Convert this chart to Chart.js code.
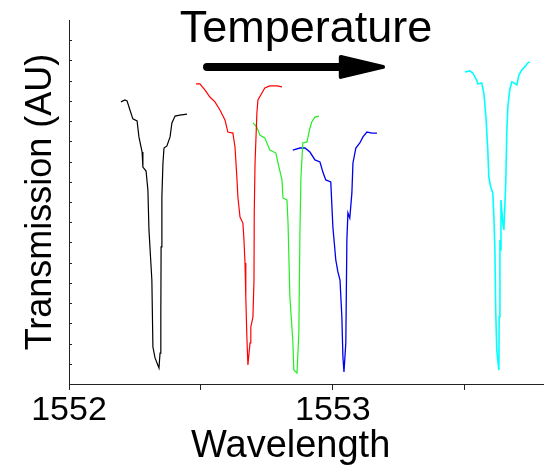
<!DOCTYPE html>
<html>
<head>
<meta charset="utf-8">
<script src="https://cdn.jsdelivr.net/npm/chart.js@4/dist/chart.umd.min.js"></script>
<style>
  body { margin: 0; background: #fff; }
  .chart-container { width: 544px; height: 466px; }
</style>
</head>
<body>
<div class="chart-container"><canvas id="chart"></canvas></div>
<script>
// tick positions
const xTicks = [1552, 1552.5, 1553, 1553.5]
const yTicks = [1, 2, 3, 4, 5, 6, 7, 8, 9, 10, 11, 12, 13, 14, 15, 16, 17]

// spectra, wavelength (nm) and transmission (AU)
const blackWl = [1552.197, 1552.212, 1552.220, 1552.231, 1552.242, 1552.258, 1552.265, 1552.277, 1552.280, 1552.292, 1552.299, 1552.303, 1552.314, 1552.318, 1552.326, 1552.341, 1552.345, 1552.348, 1552.349, 1552.352, 1552.356, 1552.360, 1552.371, 1552.383, 1552.390, 1552.402, 1552.420, 1552.447]
const blackTr = [13.95, 14.05, 14.00, 13.55, 13.11, 13.01, 12.22, 11.47, 10.73, 10.53, 9.59, 7.62, 5.14, 1.83, 1.29, 0.79, 1.53, 3.51, 6.78, 9.25, 10.93, 11.67, 11.77, 12.22, 12.91, 13.25, 13.30, 13.35]

const redWl = [1552.481, 1552.496, 1552.515, 1552.534, 1552.553, 1552.572, 1552.591, 1552.602, 1552.621, 1552.629, 1552.636, 1552.640, 1552.648, 1552.659, 1552.663, 1552.667, 1552.670, 1552.674, 1552.678, 1552.686, 1552.689, 1552.697, 1552.701, 1552.702, 1552.705, 1552.712, 1552.716, 1552.731, 1552.742, 1552.761, 1552.788, 1552.807]
const redTr = [14.84, 14.84, 14.54, 14.19, 13.95, 13.55, 13.06, 12.46, 12.41, 11.72, 10.24, 9.25, 8.26, 7.96, 7.12, 5.98, 4.30, 2.32, 0.94, 2.03, 2.82, 3.31, 5.14, 8.46, 10.93, 13.40, 14.05, 14.39, 14.64, 14.74, 14.74, 14.69]

const greenWl = [1552.697, 1552.712, 1552.723, 1552.742, 1552.761, 1552.784, 1552.792, 1552.807, 1552.811, 1552.826, 1552.830, 1552.837, 1552.848, 1552.852, 1552.864, 1552.867, 1552.871, 1552.875, 1552.879, 1552.886, 1552.902, 1552.913, 1552.920, 1552.932, 1552.947]
const greenTr = [12.91, 12.71, 12.31, 12.17, 11.57, 11.42, 10.93, 10.09, 9.20, 9.10, 7.96, 4.30, 2.18, 0.69, 0.54, 0.54, 2.52, 7.47, 10.24, 11.92, 11.97, 12.66, 12.96, 13.20, 13.25]

const blueWl = [1552.848, 1552.875, 1552.894, 1552.913, 1552.932, 1552.951, 1552.962, 1552.973, 1552.992, 1553.000, 1553.011, 1553.019, 1553.027, 1553.034, 1553.038, 1553.042, 1553.049, 1553.053, 1553.057, 1553.064, 1553.072, 1553.076, 1553.087, 1553.102, 1553.114, 1553.129, 1553.148, 1553.167]
const blueTr = [11.57, 11.67, 11.67, 11.47, 11.08, 10.98, 10.48, 10.09, 9.99, 7.76, 6.13, 5.54, 5.14, 3.31, 1.34, 0.59, 2.03, 7.12, 8.46, 8.21, 9.45, 10.93, 11.67, 11.92, 12.22, 12.46, 12.41, 12.41]

const cyanWl = [1553.500, 1553.519, 1553.530, 1553.545, 1553.549, 1553.564, 1553.572, 1553.580, 1553.587, 1553.591, 1553.598, 1553.606, 1553.610, 1553.614, 1553.617, 1553.621, 1553.629, 1553.630, 1553.633, 1553.636, 1553.637, 1553.644, 1553.648, 1553.655, 1553.659, 1553.663, 1553.670, 1553.678, 1553.686, 1553.697, 1553.705, 1553.716, 1553.727, 1553.739, 1553.746]
const cyanTr = [15.43, 15.48, 15.38, 15.03, 14.84, 14.89, 14.39, 13.20, 11.57, 10.24, 9.74, 9.45, 8.26, 6.63, 3.66, 1.68, 0.69, 3.31, 7.12, 6.63, 9.10, 7.96, 7.62, 9.94, 12.41, 13.70, 14.54, 14.94, 14.89, 14.79, 15.28, 15.53, 15.68, 15.88, 15.92]

const axisColor = "#222"
const font = "'Liberation Sans', Arial, sans-serif"

const pts = (wl, tr) => wl.map((x, i) => ({x: x, y: tr[i]}))

const line = (data, color, width) => ({
    data: data,
    borderColor: color,
    borderWidth: width,
    pointRadius: 0,
    showLine: true,
    tension: 0,
})

// inward y ticks, the arrow and the free text
const extras = {
    id: "extras",
    afterDraw(chart) {
        const {ctx, scales: {x, y}} = chart
        ctx.save()
        ctx.strokeStyle = axisColor
        ctx.lineWidth = 1
        ctx.beginPath()
        yTicks.forEach(v => {
            const py = Math.round(y.getPixelForValue(v)) + 0.5
            ctx.moveTo(x.left, py)
            ctx.lineTo(x.left + 3, py)
        })
        ctx.stroke()

        // temperature arrow
        const ay = y.getPixelForValue(15.68)
        const ax0 = x.getPixelForValue(1552.523)
        const axh = x.getPixelForValue(1553.03)
        const ax1 = x.getPixelForValue(1553.19)
        ctx.strokeStyle = "#000"
        ctx.fillStyle = "#000"
        ctx.lineCap = "round"
        ctx.lineWidth = 8
        ctx.beginPath()
        ctx.moveTo(ax0, ay)
        ctx.lineTo(axh + 4, ay)
        ctx.stroke()
        ctx.lineJoin = "round"
        ctx.lineWidth = 4
        ctx.beginPath()
        ctx.moveTo(axh, ay - 10)
        ctx.lineTo(ax1, ay)
        ctx.lineTo(axh, ay + 10)
        ctx.closePath()
        ctx.fill()
        ctx.stroke()

        ctx.textAlign = "center"
        ctx.textBaseline = "alphabetic"
        ctx.font = "45px " + font
        ctx.fillText("Temperature", x.getPixelForValue(1552.898), y.getPixelForValue(16.91))

        ctx.font = "38px " + font
        ctx.fillText("Wavelength", x.getPixelForValue(1552.84), chart.height - 9)
        ctx.restore()
    }
}

const chart = new Chart(document.getElementById("chart"), {
    type: "scatter",
    data: {
        datasets: [
            line(pts(blackWl, blackTr), "#000000", 1.2),
            line(pts(redWl, redTr), "#ff0000", 1.2),
            line(pts(greenWl, greenTr), "#22ee22", 1.2),
            line(pts(blueWl, blueTr), "#0000ee", 1.3),
            line(pts(cyanWl, cyanTr), "#00ffff", 1.6),
        ]
    },
    options: {
        responsive: true,
        maintainAspectRatio: false,
        animation: false,
        layout: {padding: {top: 20, right: 0, left: 0, bottom: 0}},
        plugins: {legend: {display: false}, tooltip: {enabled: false}},
        scales: {
            x: {
                type: "linear",
                min: 1552,
                max: 1553.8,
                afterBuildTicks: s => { s.ticks = xTicks.map(v => ({value: v})) },
                afterFit: s => { s.height = 82 },
                border: {color: axisColor, width: 1},
                grid: {drawOnChartArea: false, tickLength: 6, color: axisColor},
                ticks: {
                    autoSkip: false,
                    maxRotation: 0,
                    padding: 0,
                    color: "#000",
                    font: {family: font, size: 34},
                    callback: v => Number.isInteger(v) ? String(v) : "",
                },
            },
            y: {
                min: 0,
                max: 18,
                afterFit: s => { s.width = 69 },
                border: {color: axisColor, width: 1},
                grid: {display: false},
                ticks: {display: false},
                title: {
                    display: true,
                    text: "Transmission (AU)",
                    color: "#000",
                    font: {family: font, size: 36},
                    padding: {top: 19, bottom: 0},
                },
            },
        },
    },
    plugins: [extras],
})
</script>
</body>
</html>
